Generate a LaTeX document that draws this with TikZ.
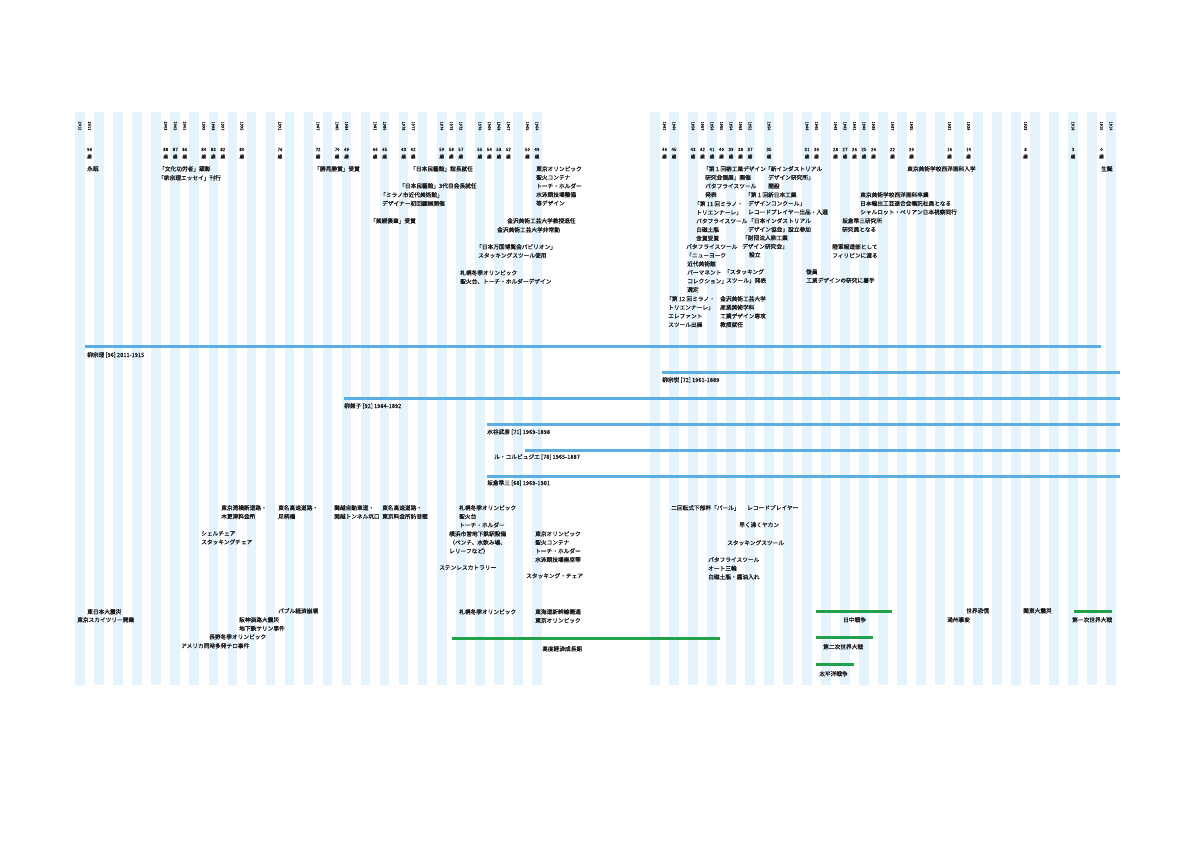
\documentclass[tikz,border=0pt]{standalone}
\usepackage{fontspec}
\newfontfamily\jp[FakeBold=0.6]{Noto Sans CJK JP}
\definecolor{stripe}{HTML}{E4F3FC}
\definecolor{barblue}{HTML}{5AAEE3}
\definecolor{bargreen}{HTML}{22A04A}
\definecolor{ink}{HTML}{1A1A1A}
\begin{document}
\begin{tikzpicture}[x=1pt,y=-1pt,
  txt/.style={font=\jp\fontsize{5.7}{8.6}\selectfont, inner sep=0pt, anchor=north west, align=left, text=ink},
  yearlbl/.style={font=\jp\fontsize{4}{4}\selectfont, inner sep=0pt, rotate=-90, text=ink},
  agelbl/.style={font=\jp\fontsize{4.6}{4.6}\selectfont, inner sep=0pt, text=ink},
  lifebar/.style={barblue, line width=3pt},
  erabar/.style={bargreen, line width=3pt},
  declare function={xl(\t)=80+(2012-\t)*9.52; xr(\t)=807+(1946-\t)*9.5;}]
\useasboundingbox (0,0) rectangle (1191,842);
\fill[white] (0,0) rectangle (1191,842);
% stripes
\foreach \k in {0,2,...,48} \fill[stripe] ({80+\k*9.52-4.76},112) rectangle ({80+\k*9.52+4.76},685);
\foreach \k in {-16,-14,...,32} \fill[stripe] ({807+\k*9.5-4.75},112) rectangle ({807+\k*9.5+4.75},685);
% years and ages, left panel
\foreach \yr/\ag in {2011/96,2003/88,2002/87,2001/86,1999/84,1998/83,1997/82,1995/80,1991/76,1987/72,1985/70,1984/69,1981/66,1980/65,1978/63,1977/62,1974/59,1973/58,1972/57,1970/55,1969/54,1968/53,1967/52,1965/50,1964/49}{
  \node[yearlbl] (y\yr) at ({xl(\yr)},126) {\yr};
  \node[agelbl] (a\yr) at ({xl(\yr)},149.5) {\ag};
  \node[agelbl] (s\yr) at ({xl(\yr)},156.5) {歳};
}
\node[yearlbl] (y2012) at ({xl(2012)},126) {2012};
% years and ages, right panel
\foreach \yr/\ag in {1961/46,1960/45,1958/43,1957/42,1956/41,1955/40,1954/39,1953/38,1952/37,1950/35,1946/31,1945/30,1943/28,1942/27,1941/26,1940/25,1939/24,1937/22,1935/20,1931/16,1929/14,1923/8,1918/3,1915/0}{
  \node[yearlbl] (y\yr) at ({xr(\yr)},126) {\yr};
  \node[agelbl] (a\yr) at ({xr(\yr)},149.5) {\ag};
  \node[agelbl] (s\yr) at ({xr(\yr)},156.5) {歳};
}
\node[yearlbl] (y1914) at ({xr(1914)},126) {1914};
% top events, left panel
\node[txt] (t1) at (87,166) {永眠};
\node[txt] (t2) at (159,166) {「文化功労者」顕彰};
\node[txt] (t3) at (158,175) {「柳宗理エッセイ」刊行};
\node[txt] (t4) at (314,166) {「勝見勝賞」受賞};
\node[txt] (t5) at (410,166) {「日本民藝館」館長就任};
\node[txt] (t6) at (399,183) {「日本民藝館」3代目会長就任};
\node[txt] (t7) at (380,192) {「ミラノ市近代美術館」\\\hspace{2pt}デザイナー初回顧展開催};
\node[txt] (t9) at (370,218) {「紫綬褒章」受賞};
\node[txt] (t10) at (536,166) {東京オリンピック\\聖火コンテナ\\トーチ・ホルダー\\水泳競技場整備\\等デザイン};
\node[txt] (t11) at (507,218) {金沢美術工芸大学教授退任};
\node[txt] (t12) at (497,227) {金沢美術工芸大学非常勤};
\node[txt] (t13) at (476,244) {「日本万国博覧会パビリオン」\\\hspace{2pt}スタッキングスツール使用};
\node[txt] (t14) at (460,270) {札幌冬季オリンピック\\聖火台、トーチ・ホルダーデザイン};
% top events, right panel
\node[txt] (r1) at (703,166) {「第１回柳工業デザイン\\\hspace{2pt}研究会個展」開催\\\hspace{2pt}バタフライスツール\\\hspace{2pt}発表};
\node[txt] (r2) at (694,201) {「第 11 回ミラノ・\\\hspace{2pt}トリエンナーレ」\\\hspace{2pt}バタフライスツール\\\hspace{2pt}白磁土瓶\\\hspace{2pt}金賞受賞};
\node[txt] (r3) at (686,244) {バタフライスツール\\「ニューヨーク\\\hspace{1pt}近代美術館\\\hspace{1pt}パーマネント\\\hspace{1pt}コレクション」\\\hspace{1pt}選定};
\node[txt] (r4) at (666,296) {「第 12 回ミラノ・\\\hspace{2pt}トリエンナーレ」\\\hspace{2pt}エレファント\\\hspace{2pt}スツール出展};
\node[txt] (r5) at (765,166) {「新インダストリアル\\\hspace{3pt}デザイン研究所」\\\hspace{3pt}開設};
\node[txt] (r6) at (745,192) {「第１回新日本工業\\\hspace{3pt}デザインコンクール」\\\hspace{3pt}レコードプレイヤー出品・入選};
\node[txt] (r7) at (748,218) {「日本インダストリアル\\デザイン協会」設立参加};
\node[txt] (r8a) at (742,235) {「財団法人柳工業\\デザイン研究会」};
\node[txt] (r8b) at (749,252) {設立};
\node[txt] (r9) at (724,269) {「スタッキング\\\hspace{2pt}スツール」発表};
\node[txt] (r10) at (720,296) {金沢美術工芸大学\\産業美術学科\\工業デザイン専攻\\教授就任};
\node[txt] (r11) at (907,166) {東京美術学校西洋画科入学};
\node[txt] (r12) at (1101,166) {生誕};
\node[txt] (r13) at (860,192) {東京美術学校西洋画科卒業\\日本輸出工芸連合会嘱託社員となる\\シャルロット・ペリアン日本視察同行};
\node[txt] (r14) at (842,218) {坂倉準三研究所\\研究員となる};
\node[txt] (r15) at (832,244) {陸軍報道部として\\フィリピンに渡る};
\node[txt] (r16) at (806,269) {復員\\工業デザインの研究に着手};
% life bars
\coordinate (l1s) at (85,346);  \coordinate (l1e) at (1101,346);
\coordinate (l2s) at (662,372); \coordinate (l2e) at (1120,372);
\coordinate (l3s) at (344,398); \coordinate (l3e) at (1120,398);
\coordinate (l4s) at (487,424); \coordinate (l4e) at (1120,424);
\coordinate (l5s) at (525,450); \coordinate (l5e) at (1120,450);
\coordinate (l6s) at (487,476); \coordinate (l6e) at (1120,476);
\draw[lifebar] (l1s) -- (l1e);
\draw[lifebar] (l2s) -- (l2e);
\draw[lifebar] (l3s) -- (l3e);
\draw[lifebar] (l4s) -- (l4e);
\draw[lifebar] (l5s) -- (l5e);
\draw[lifebar] (l6s) -- (l6e);
\node[txt] (p1) at (87,352) {柳宗理 [96] 2011-1915};
\node[txt] (p2) at (662,377) {柳宗悦 [72] 1961-1889};
\node[txt] (p3) at (344,403) {柳兼子 [92] 1984-1892};
\node[txt] (p4) at (487,429) {水谷武彦 [71] 1969-1898};
\node[txt] (p5) at (494,454) {ル・コルビュジエ [78] 1965-1887};
\node[txt] (p6) at (487,480) {坂倉準三 [68] 1969-1901};
% works
\node[txt] (b1) at (221,505) {東京湾横断道路・\\木更津料金所};
\node[txt] (b2) at (278,505) {東名高速道路・\\足柄橋};
\node[txt] (b3) at (334,505) {関越自動車道・\\関越トンネル坑口};
\node[txt] (b4) at (382,505) {東名高速道路・\\東京料金所防音壁};
\node[txt] (b5) at (201,531) {シェルチェア\\スタッキングチェア};
\node[txt] (b6) at (459,505) {札幌冬季オリンピック\\聖火台\\トーチ・ホルダー};
\node[txt] (b7) at (449,531) {横浜市営地下鉄駅設備\\（ベンチ、水飲み場、\\レリーフなど）};
\node[txt] (b8) at (439,565) {ステンレスカトラリー};
\node[txt] (b9) at (535,531) {東京オリンピック\\聖火コンテナ\\トーチ・ホルダー\\水泳競技場座席等};
\node[txt] (b10) at (526,573) {スタッキング・チェア};
\node[txt] (b11) at (671,505) {二回転式下部杯「パール」};
\node[txt] (b12) at (747,505) {レコードプレイヤー};
\node[txt] (b13) at (739,522) {早く沸くヤカン};
\node[txt] (b14) at (727,540) {スタッキングスツール};
\node[txt] (b15) at (708,557) {バタフライスツール\\オート三輪\\白磁土瓶・醤油入れ};
% world events
\node[txt] (e1) at (87,609) {東日本大震災};
\node[txt] (e2) at (77,617) {東京スカイツリー開業};
\node[txt] (e3) at (278,608) {バブル経済崩壊};
\node[txt] (e4) at (239,617) {阪神淡路大震災\\地下鉄サリン事件};
\node[txt] (e5) at (209,634) {長野冬季オリンピック};
\node[txt] (e6) at (181,643) {アメリカ同時多発テロ事件};
\node[txt] (e7) at (459,609) {札幌冬季オリンピック};
\node[txt] (e8) at (535,609) {東海道新幹線開通\\東京オリンピック};
\coordinate (g1s) at (452,638); \coordinate (g1e) at (720,638);
\draw[erabar] (g1s) -- (g1e);
\node[txt] (e9) at (542,646) {高度経済成長期};
\coordinate (g2s) at (816,611); \coordinate (g2e) at (892,611);
\draw[erabar] (g2s) -- (g2e);
\node[txt] (e10) at (843,617) {日中戦争};
\coordinate (g3s) at (816,637); \coordinate (g3e) at (873,637);
\draw[erabar] (g3s) -- (g3e);
\node[txt] (e11) at (823,644) {第二次世界大戦};
\coordinate (g4s) at (816,664); \coordinate (g4e) at (854,664);
\draw[erabar] (g4s) -- (g4e);
\node[txt] (e12) at (819,671) {太平洋戦争};
\node[txt] (e13) at (966,608) {世界恐慌};
\node[txt] (e14) at (947,617) {満州事変};
\node[txt] (e15) at (1023,608) {関東大震災};
\coordinate (g5s) at (1074,611); \coordinate (g5e) at (1112,611);
\draw[erabar] (g5s) -- (g5e);
\node[txt] (e16) at (1072,617) {第一次世界大戦};
\end{tikzpicture}
\end{document}
